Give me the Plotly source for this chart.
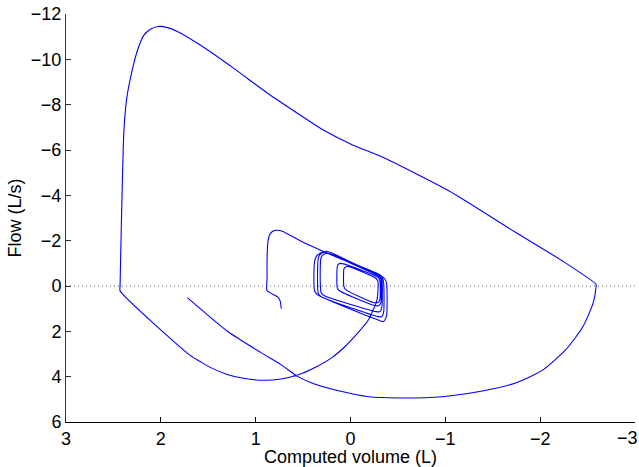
import plotly.graph_objects as go

# Flow-volume trace, in time order (volume L, flow L/s)
volume = [
    0.73, 0.74, 0.76, 0.88, 0.88, 0.88, 0.87, 0.85, 0.82, 0.77, 0.72, 0.52, 0.29, -0.01, -0.31,
    -0.36, -0.38, -0.38, -0.35, -0.31, 0.35, 0.38, 0.38, 0.36, 0.32, 0.25,
    -0.03, -0.32, -0.34, -0.35, -0.35, -0.33, -0.29, 0.31, 0.34, 0.34, 0.32, 0.27,
    -0.03, -0.31, -0.33, -0.33, -0.31, -0.27, 0.28, 0.31, 0.31, 0.28, 0.23,
    -0.06, -0.30, -0.32, -0.32, -0.30, -0.25, 0.12, 0.14, 0.14, 0.13, 0.10,
    -0.29, -0.31, -0.31, -0.29, -0.24, 0.05, 0.07, 0.07, 0.06, 0.03,
    -0.27, -0.29, -0.29, -0.28, -0.25, -0.22, -0.19, -0.08, 0.06, 0.20, 0.38, 0.55, 0.73,
    0.92, 1.13, 1.30, 1.48, 1.59, 1.69, 2.43,
    2.43, 2.42, 2.41, 2.39, 2.36, 2.29, 2.24, 2.18, 2.11, 2.03, 1.93, 1.82, 1.58, 1.23, 0.87,
    0.52, 0.31, 0.00, -0.33, -1.04, -1.74, -2.24, -2.59,
    -2.59, -2.56, -2.45, -2.27, -2.03, -1.74, -1.39, -1.04, -0.68, -0.51, -0.22, 0.02, 0.38,
    0.55, 0.73, 0.94, 1.29, 1.72,
]
flow = [
    1.00, 0.69, 0.51, 0.20, -0.29, -1.17, -1.97, -2.28, -2.42, -2.46, -2.42, -1.97, -1.53, -1.00, -0.47,
    -0.33, -0.11, 1.31, 1.57, 1.53, 0.38, 0.20, -1.04, -1.31, -1.44, -1.53,
    -1.00, -0.47, -0.33, -0.11, 1.13, 1.35, 1.35, 0.47, 0.33, -1.22, -1.40, -1.49,
    -0.95, -0.42, -0.29, 0.95, 1.13, 1.13, 0.42, 0.29, -1.26, -1.40, -1.44,
    -0.91, -0.42, -0.29, 0.73, 0.86, 0.86, 0.20, 0.07, -0.82, -0.95, -1.00,
    -0.38, -0.24, 0.60, 0.73, 0.73, 0.16, 0.02, -0.73, -0.82, -0.86,
    -0.33, -0.20, 0.16, 0.60, 0.95, 1.22, 1.49, 2.06, 2.68, 3.17, 3.61, 3.92, 4.10,
    4.16, 4.07, 3.90, 3.59, 3.32, 3.06, 0.21,
    0.00, -2.00, -3.83, -6.80, -8.27, -9.73, -10.48, -11.06, -11.33, -11.45, -11.40, -11.22, -10.62, -9.60, -8.49,
    -7.51, -6.94, -6.27, -5.70, -4.19, -2.37, -1.09, -0.07,
    0.02, 0.73, 1.80, 2.81, 3.70, 4.28, 4.63, 4.85, 4.94, 4.94, 4.90, 4.72, 4.32,
    4.01, 3.48, 2.95, 2.02, 0.51,
]

zero_x = [3, -3]
zero_y = [0, 0]

x_ticks = [3, 2, 1, 0, -1, -2, -3]
x_labels = ["3", "2", "1", "0", "\u22121", "\u22122", "\u22123"]
y_ticks = [-12, -10, -8, -6, -4, -2, 0, 2, 4, 6]
y_labels = ["\u221212", "\u221210", "\u22128", "\u22126", "\u22124", "\u22122", "0", "2", "4", "6"]

fig = go.Figure()
fig.add_trace(go.Scatter(x=zero_x, y=zero_y, mode="lines",
                         line=dict(color="#666666", width=1, dash="1px,3px"),
                         hoverinfo="skip", showlegend=False))
fig.add_trace(go.Scatter(x=volume, y=flow, mode="lines",
                         line=dict(color="#0000ff", width=1.1, shape="spline", smoothing=0.6),
                         showlegend=False))

font = dict(family="Liberation Sans, Arial, Helvetica, sans-serif", size=18, color="black")

# the last x tick label sits at the right edge; draw it as an annotation nudged inward
shown_x_labels = x_labels[:-1] + [""]
fig.add_annotation(x=x_ticks[-1], xref="x", y=0, yref="paper",
                   text=x_labels[-1], showarrow=False, font=font,
                   xanchor="center", yanchor="top", xshift=-8, yshift=-4)

fig.update_layout(
    width=639, height=467,
    margin=dict(l=66, r=4, t=14, b=45),
    paper_bgcolor="white", plot_bgcolor="white",
    font=font,
    showlegend=False,
)
fig.update_xaxes(
    range=[3, -3], tickvals=x_ticks, ticktext=shown_x_labels,
    showgrid=False, zeroline=False, showline=True, linecolor="black", linewidth=1,
    ticks="inside", ticklen=5, tickcolor="black", automargin=False,
    title=dict(text="Computed volume (L)", font=font, standoff=0),
    tickfont=font,
)
fig.update_yaxes(
    range=[6, -12], tickvals=y_ticks, ticktext=y_labels,
    showgrid=False, zeroline=False, showline=True, linecolor="#333333", linewidth=1,
    ticks="inside", ticklen=5, tickcolor="#333333", automargin=False,
    ticklabeloverflow="allow",
    title=dict(text="Flow (L/s)", font=font, standoff=4),
    tickfont=font,
)

fig.write_html(
    "out.html",
    config={"displayModeBar": False},
    post_script="document.body.style.margin='0px';document.body.style.overflow='hidden';",
)
